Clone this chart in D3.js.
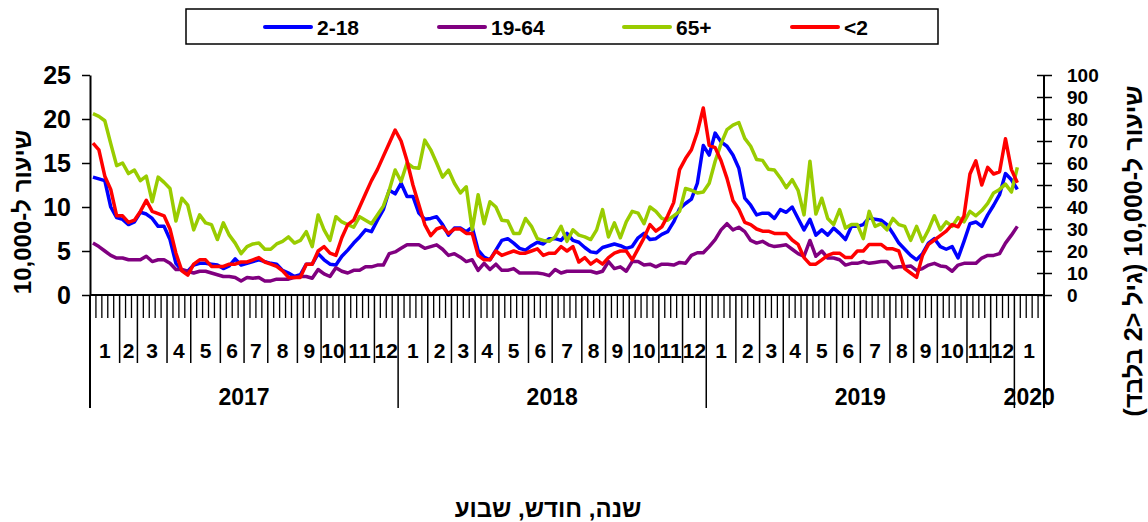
<!DOCTYPE html>
<html>
<head>
<meta charset="utf-8">
<script src="https://cdn.jsdelivr.net/npm/d3@7"></script>
<style>
    body { margin: 0; background: #fff; }
    svg { display: block; font-family: "Liberation Sans", Arial, sans-serif; font-weight: bold; }
</style>
</head>
<body>
<div id="chart"></div>
<script>
// categories: weeks grouped by month and year
const years = ['2017', '2018', '2019', '2020'];
const monthLabels = ['1', '2', '3', '4', '5', '6', '7', '8', '9', '10', '11', '12'];
const weeksPerMonth = [
    [5, 3, 5, 4, 5, 4, 4, 5, 4, 4, 5, 4],
    [5, 4, 4, 4, 5, 4, 5, 4, 4, 5, 4, 4],
    [5, 4, 4, 4, 5, 4, 5, 4, 4, 5, 4, 4],
    [5]
];

const seriesNames = ['2-18', '19-64', '65+', '<2'];
const seriesColors = ['#0000ff', '#800080', '#99cc00', '#ff0000'];

const leftTicks = [0, 5, 10, 15, 20, 25];
const rightTicks = [0, 10, 20, 30, 40, 50, 60, 70, 80, 90, 100];

// weekly rates per 10,000 (left axis)
const age2to18 = [
    13.4, 13.2, 13.0, 10.0, 8.8, 8.6, 8.0, 8.3, 9.4, 9.2, 8.7, 7.8, 7.8, 6.3, 3.6, 2.8, 2.7, 3.4, 3.6, 3.6,
    3.5, 3.4, 3.0, 3.3, 4.1, 3.4, 3.6, 3.8, 4.0, 3.8, 3.6, 3.5, 2.8, 2.5, 2.1, 2.3, 3.5, 3.5, 4.7, 4.0,
    3.5, 3.4, 4.4, 5.1, 5.9, 6.6, 7.4, 7.2, 8.5, 9.7, 11.9, 11.5, 12.7, 11.2,
    11.2, 9.3, 8.6, 8.7, 8.9, 8.0, 6.8, 7.6, 7.6, 7.2, 7.7, 5.1, 4.3, 4.0, 5.1, 6.2, 6.4, 5.9, 5.3, 5.1,
    5.6, 6.0, 5.8, 6.4, 6.4, 6.2, 7.0, 6.2, 6.0, 5.4, 4.9, 4.8, 5.4, 5.6, 5.8, 5.6, 5.3, 5.5, 6.5, 7.0,
    6.3, 6.4, 6.9, 7.2, 8.3, 9.8, 10.4, 10.9, 12.7, 17.0, 15.9, 18.4,
    17.4, 16.9, 15.9, 14.4, 11.0, 10.2, 9.1, 9.3, 9.3, 8.7, 9.7, 9.4, 10.0, 8.7, 7.4, 8.6, 6.8, 7.4, 6.8, 7.6,
    7.0, 6.3, 7.8, 7.8, 8.0, 8.8, 8.6, 8.5, 8.0, 7.0, 5.9, 5.2, 4.5, 4.0, 4.7, 5.9, 6.4, 5.5, 5.2, 5.5,
    4.2, 6.1, 8.1, 8.3, 7.8, 9.1, 10.2, 11.4, 13.8, 13.1, 12.0
];
const age19to64 = [
    5.9, 5.5, 5.0, 4.5, 4.2, 4.2, 4.0, 4.0, 4.0, 4.4, 3.8, 4.0, 4.0, 3.6, 2.9, 2.9, 2.7, 2.5, 2.7, 2.7,
    2.5, 2.3, 2.1, 2.1, 2.0, 1.6, 2.0, 1.9, 2.0, 1.6, 1.6, 1.8, 1.8, 1.8, 2.0, 2.1, 2.1, 1.9, 2.9, 2.4,
    2.1, 3.1, 2.7, 2.5, 2.8, 2.8, 3.2, 3.2, 3.4, 3.4, 4.7, 4.9, 5.3, 5.7,
    5.7, 5.7, 5.3, 5.5, 5.7, 5.2, 4.5, 4.7, 4.3, 3.8, 4.0, 2.8, 3.6, 2.9, 3.5, 2.8, 2.8, 3.0, 2.5, 2.5,
    2.5, 2.5, 2.4, 2.2, 2.9, 2.5, 2.7, 2.7, 2.7, 2.7, 2.7, 2.5, 2.7, 3.8, 3.0, 3.2, 2.7, 3.8, 3.8, 3.4,
    3.5, 3.2, 3.5, 3.5, 3.4, 3.7, 3.6, 4.5, 4.8, 4.8, 5.5, 6.3,
    7.4, 8.1, 7.4, 7.7, 7.2, 6.2, 5.9, 6.1, 5.7, 5.5, 5.6, 5.7, 5.2, 4.7, 4.4, 6.2, 4.4, 5.0, 4.2, 4.2,
    4.0, 3.4, 3.6, 3.6, 3.8, 3.6, 3.7, 3.8, 3.8, 3.1, 3.2, 3.2, 3.3, 2.8, 3.0, 3.4, 3.6, 3.3, 3.2, 2.7,
    3.4, 3.6, 3.6, 3.6, 4.2, 4.5, 4.5, 4.7, 5.9, 6.8, 7.8
];
const age65plus = [
    20.6, 20.3, 19.8, 17.2, 14.7, 15.0, 13.8, 14.2, 13.0, 13.5, 10.6, 13.4, 12.8, 12.1, 8.4, 11.0, 10.2, 7.4, 9.1, 8.2,
    8.0, 6.3, 8.2, 6.8, 5.9, 4.7, 5.5, 5.8, 5.9, 5.2, 5.2, 5.8, 6.1, 6.6, 5.9, 6.2, 7.2, 5.5, 9.1, 7.4,
    6.2, 8.9, 8.3, 8.0, 7.7, 8.9, 8.5, 8.1, 9.1, 10.1, 11.9, 14.2, 12.9, 15.0,
    14.5, 14.4, 17.6, 16.5, 15.0, 13.4, 14.2, 12.7, 11.6, 12.3, 7.4, 11.4, 8.1, 10.6, 10.0, 8.5, 8.4, 7.0, 7.0, 8.7,
    7.8, 6.4, 6.2, 6.1, 6.6, 7.8, 6.1, 7.4, 6.8, 6.6, 6.3, 7.4, 9.7, 6.6, 8.2, 6.5, 8.3, 9.5, 9.3, 8.1,
    10.0, 9.5, 8.7, 8.5, 9.0, 9.5, 12.1, 11.9, 11.6, 11.7, 12.7, 15.2,
    17.2, 18.8, 19.3, 19.6, 17.8, 16.9, 15.4, 15.3, 14.3, 14.2, 13.3, 12.2, 13.1, 11.9, 9.1, 15.2, 9.2, 11.0, 8.7, 8.0,
    9.7, 7.6, 8.0, 8.0, 6.4, 9.5, 7.8, 8.1, 7.4, 8.7, 8.0, 7.8, 6.2, 7.8, 6.1, 7.4, 9.0, 7.4, 8.3, 7.8,
    8.8, 8.3, 9.5, 9.0, 9.6, 10.4, 11.6, 12.0, 12.6, 11.7, 14.5
];
// under 2 is plotted on the right axis (0-100)
const ageUnder2 = [
    69, 66, 54, 48, 36, 36, 33, 34, 38, 43, 38, 37, 36, 30, 19, 11, 9, 14, 16, 16,
    13, 13, 13, 14, 14, 15, 15, 16, 17, 15, 14, 13, 11, 8, 8, 8, 14, 14, 20, 22,
    19, 18, 26, 32, 34, 40, 46, 52, 57, 63, 69, 75, 70, 61,
    50, 41, 32, 27, 30, 31, 28, 30, 30, 28, 28, 18, 16, 16, 20, 18, 19, 20, 19, 19,
    20, 21, 18, 19, 19, 22, 20, 22, 15, 17, 14, 16, 14, 17, 19, 20, 20, 16, 21, 26,
    32, 29, 31, 36, 42, 57, 62, 66, 74, 85, 68, 67,
    61, 53, 43, 39, 33, 32, 30, 29, 29, 28, 28, 28, 25, 23, 17, 14, 14, 16, 18, 19,
    19, 17, 17, 20, 20, 23, 23, 23, 21, 21, 20, 12, 10, 8, 18, 23, 25, 27, 29, 32,
    31, 36, 55, 61, 50, 58, 55, 56, 71, 57, 51
];

const leftTitle = 'שיעור ל-10,000';
const rightTitle = 'שיעור ל-10,000 (גיל <2 בלבד)';
const bottomTitle = 'שנה, חודש, שבוע';

const width = 1148, height = 522;
const plot = { left: 90, right: 1044, top: 75, bottom: 295 };

const svg = d3.select('#chart')
    .append('svg')
    .attr('width', width)
    .attr('height', height);

svg.append('rect').attr('width', width).attr('height', height).attr('fill', '#fff');

// build week list
const weeks = [];
const monthSpans = [];
const yearSpans = [];
years.forEach((yr, yi) => {
    const yStart = weeks.length;
    weeksPerMonth[yi].forEach((n, mi) => {
        monthSpans.push({ label: monthLabels[mi], start: weeks.length, end: weeks.length + n });
        for (let k = 0; k < n; k++) weeks.push({ year: yr, month: mi });
    });
    yearSpans.push({ label: yr, start: yStart, end: weeks.length });
});

const x = d3.scaleBand()
    .domain(d3.range(weeks.length))
    .range([plot.left, plot.right])
    .padding(0);
const edge = i => i < weeks.length ? x(i) : plot.right;

const yL = d3.scaleLinear().domain([0, 25]).range([plot.bottom, plot.top]);
const yR = d3.scaleLinear().domain([0, 100]).range([plot.bottom, plot.top]);

// x axis: weekly ticks, month and year separators
const xg = svg.append('g').attr('stroke', '#000');
const monthEdges = new Set(monthSpans.map(m => m.start));
const yearEdges = new Set(yearSpans.map(y => y.start));
for (let b = 1; b <= weeks.length; b++) {
    let len = 23;
    if (monthEdges.has(b) || b === weeks.length) len = 68;
    if (yearEdges.has(b) || b === weeks.length) len = 113;
    xg.append('line')
        .attr('x1', edge(b)).attr('x2', edge(b))
        .attr('y1', plot.bottom).attr('y2', plot.bottom + len)
        .attr('stroke-width', len === 23 ? 1.3 : 1.5);
}
xg.append('line')
    .attr('x1', plot.left).attr('x2', plot.left)
    .attr('y1', plot.bottom).attr('y2', plot.bottom + 113)
    .attr('stroke-width', 2);
xg.append('line')
    .attr('x1', plot.left).attr('x2', plot.right)
    .attr('y1', plot.bottom).attr('y2', plot.bottom)
    .attr('stroke-width', 2);

svg.append('g')
    .selectAll('text')
    .data(monthSpans)
    .enter()
    .append('text')
    .attr('x', d => (edge(d.start) + edge(d.end)) / 2)
    .attr('y', 358)
    .attr('text-anchor', 'middle')
    .attr('font-size', 21)
    .text(d => d.label);

svg.append('g')
    .selectAll('text')
    .data(yearSpans)
    .enter()
    .append('text')
    .attr('x', d => (edge(d.start) + edge(d.end)) / 2)
    .attr('y', 405)
    .attr('text-anchor', 'middle')
    .attr('font-size', 23)
    .text(d => d.label);

// y axes
const leftAxis = svg.append('g')
    .attr('transform', `translate(${plot.left},0)`)
    .call(d3.axisLeft(yL).tickValues(leftTicks).tickSize(8).tickSizeOuter(0).tickPadding(11));

const rightAxis = svg.append('g')
    .attr('transform', `translate(${plot.right},0)`)
    .call(d3.axisRight(yR).tickValues(rightTicks).tickSize(8).tickSizeOuter(0).tickPadding(15));
rightAxis.selectAll('.tick line').attr('x1', -7);
rightAxis.select('.domain').attr('d', `M0,${plot.top}V${plot.bottom + 113}`);

[leftAxis, rightAxis].forEach(g => {
    g.select('.domain').attr('stroke', '#000').attr('stroke-width', 2);
    g.selectAll('.tick line').attr('stroke', '#000').attr('stroke-width', 1.5);
    g.selectAll('.tick text')
        .attr('fill', '#000')
        .style('font-family', '"Liberation Sans", Arial, sans-serif')
        .style('font-weight', 'bold');
});
leftAxis.selectAll('.tick text').style('font-size', '25px');
rightAxis.selectAll('.tick text').style('font-size', '19px');

// series lines
const series = [
    { name: seriesNames[0], color: seriesColors[0], values: age2to18, y: yL },
    { name: seriesNames[1], color: seriesColors[1], values: age19to64, y: yL },
    { name: seriesNames[2], color: seriesColors[2], values: age65plus, y: yL },
    { name: seriesNames[3], color: seriesColors[3], values: ageUnder2, y: yR }
];

series.forEach(s => {
    const line = d3.line()
        .x((d, i) => x(i) + x.bandwidth() / 2)
        .y(d => s.y(d));
    svg.append('path')
        .datum(s.values)
        .attr('d', line)
        .attr('fill', 'none')
        .attr('stroke', s.color)
        .attr('stroke-width', 3.5)
        .attr('stroke-linejoin', 'round');
});

// legend
const legendX = [265, 439, 624, 792];
svg.append('rect')
    .attr('x', 186).attr('y', 9)
    .attr('width', 752).attr('height', 35)
    .attr('fill', 'none')
    .attr('stroke', '#000')
    .attr('stroke-width', 1.5);

const legend = svg.append('g')
    .selectAll('g')
    .data(series)
    .enter()
    .append('g')
    .attr('transform', (d, i) => `translate(${legendX[i]},27)`);
legend.append('line')
    .attr('x1', 0).attr('x2', 46)
    .attr('stroke', d => d.color)
    .attr('stroke-width', 4)
    .attr('stroke-linecap', 'round');
legend.append('text')
    .attr('x', 52).attr('y', 8)
    .attr('font-size', 21)
    .text(d => d.name);

// axis titles
svg.append('text')
    .attr('transform', 'translate(31,212) rotate(-90)')
    .attr('text-anchor', 'middle')
    .attr('direction', 'rtl')
    .attr('font-size', 24)
    .text(leftTitle);

svg.append('text')
    .attr('transform', 'translate(1142,251) rotate(-90)')
    .attr('text-anchor', 'middle')
    .attr('direction', 'rtl')
    .attr('font-size', 25)
    .text(rightTitle);

svg.append('text')
    .attr('x', 548).attr('y', 517)
    .attr('text-anchor', 'middle')
    .attr('direction', 'rtl')
    .attr('font-size', 24)
    .text(bottomTitle);
</script>
</body>
</html>
